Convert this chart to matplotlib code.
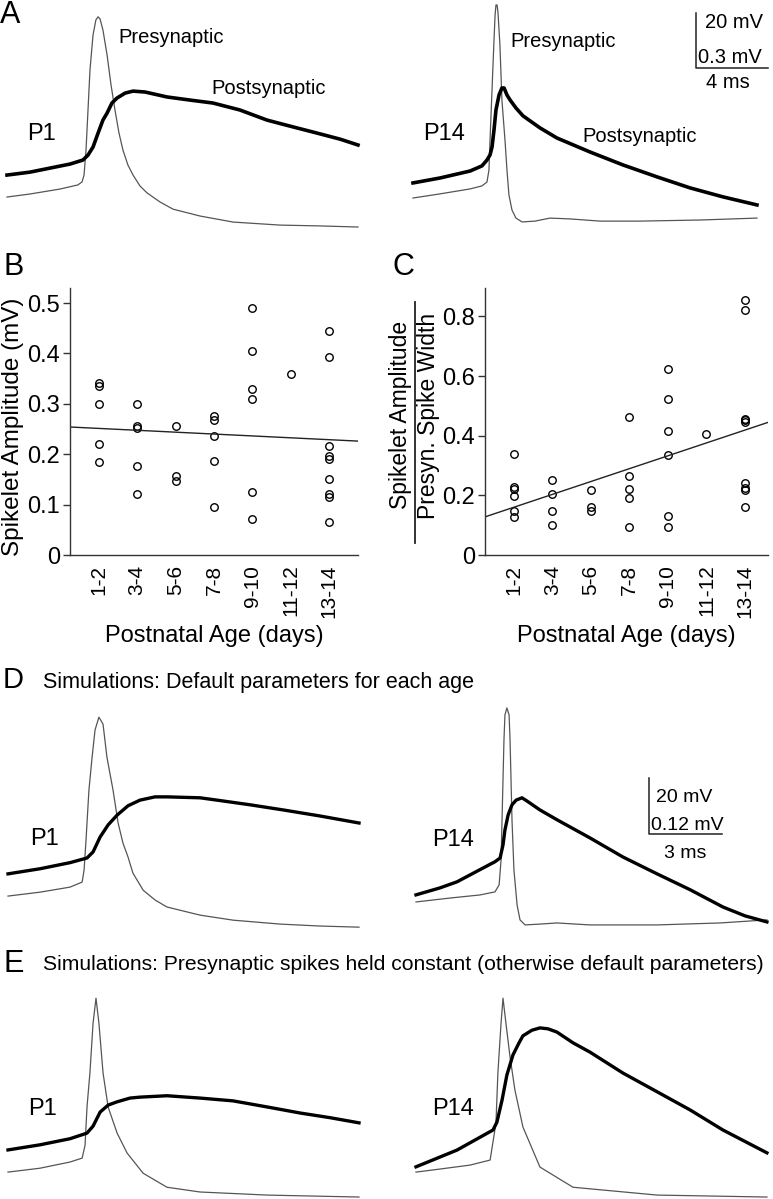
import numpy as np
import matplotlib
matplotlib.use("Agg")
import matplotlib.pyplot as plt

plt.rcParams['font.family'] = ['Liberation Sans', 'DejaVu Sans']

W, H = 773, 1199

# ---- scatter data (B and C) ----
age_groups = ['1-2', '3-4', '5-6', '7-8', '9-10', '11-12', '13-14']

b_group = [1, 1, 1, 1, 1, 2, 2, 2, 2, 2, 3, 3, 3, 4, 4, 4, 4, 4,
           5, 5, 5, 5, 5, 5, 6, 7, 7, 7, 7, 7, 7, 7, 7, 7]
b_amp = [0.342, 0.336, 0.30, 0.22, 0.185,
         0.299, 0.257, 0.253, 0.176, 0.121,
         0.256, 0.156, 0.147,
         0.275, 0.268, 0.236, 0.186, 0.096,
         0.49, 0.405, 0.33, 0.31, 0.125, 0.071,
         0.36,
         0.445, 0.394, 0.216, 0.196, 0.19, 0.151, 0.121, 0.115, 0.065]
b_fit = (0.255, -0.00373)  # intercept, slope

c_group = [1, 1, 1, 1, 1, 1, 2, 2, 2, 2, 3, 3, 3, 4, 4, 4, 4, 4,
           5, 5, 5, 5, 5, 5, 6, 7, 7, 7, 7, 7, 7, 7, 7, 7]
c_ratio = [0.337, 0.229, 0.222, 0.199, 0.148, 0.126,
           0.251, 0.204, 0.148, 0.100,
           0.218, 0.162, 0.149,
           0.463, 0.264, 0.220, 0.190, 0.093,
           0.625, 0.522, 0.416, 0.335, 0.131, 0.093,
           0.404,
           0.854, 0.820, 0.457, 0.451, 0.445, 0.240, 0.223, 0.218, 0.162]
c_fit = (0.117, 0.0431)

# ---- traces: time (ms), presynaptic Vm (mV), postsynaptic deflection (mV) ----
# A, P1 recording
al_pre_t = [0, 1.28, 2.94, 3.94, 4.17, 4.28, 4.39, 4.50, 4.61, 4.78, 4.94, 5.06, 5.17, 5.33,
            5.56, 5.78, 6.00, 6.22, 6.44, 6.72, 7.00, 7.39, 7.78, 8.50, 9.22, 10.72, 12.56,
            15.17, 17.39, 19.50]
al_pre_v = [-65.0, -63.9, -62.1, -60.6, -59.5, -57.0, -47.9, -33.4, -18.8, -6.1, -0.6, 0.5,
            -0.3, -4.3, -13.4, -24.3, -33.4, -41.7, -47.9, -53.4, -57.0, -61.0, -63.5, -66.8,
            -69.4, -71.9, -74.1, -75.2, -75.5, -75.9]
al_post_t = [0, 1.28, 2.39, 3.50, 4.22, 4.50, 4.78, 5.06, 5.33, 5.56, 5.83, 6.11, 6.56, 7.00,
             7.67, 8.89, 10.17, 11.44, 12.94, 14.44, 15.72, 17.22, 18.50, 19.50]
al_post_v = [0, 0.016, 0.038, 0.060, 0.082, 0.109, 0.153, 0.229, 0.300, 0.338, 0.393, 0.420,
             0.447, 0.458, 0.453, 0.426, 0.409, 0.393, 0.355, 0.300, 0.267, 0.229, 0.196, 0.164]

# A, P14 recording
ar_pre_t = [0, 1.50, 3.17, 3.83, 4.11, 4.22, 4.28, 4.39, 4.50, 4.56, 4.61, 4.67, 4.72, 4.83,
            4.94, 5.11, 5.22, 5.33, 5.50, 5.72, 6.06, 6.78, 7.61, 8.72, 10.39, 12.61, 15.94,
            19.11]
ar_pre_v = [-65.0, -63.5, -61.7, -60.6, -59.2, -54.8, -43.9, -25.7, -7.5, 1.5, 5.2, 5.2, 2.6,
            -9.4, -29.4, -43.9, -54.8, -63.9, -69.4, -72.3, -73.7, -73.4, -72.3, -72.6, -73.4,
            -73.4, -73.0, -72.3]
ar_post_t = [0, 1.50, 3.17, 3.83, 4.11, 4.28, 4.39, 4.50, 4.61, 4.78, 4.94, 5.06, 5.22, 5.39,
             5.72, 6.11, 7.06, 8.00, 9.83, 11.67, 13.56, 15.39, 17.22, 19.11]
ar_post_v = [0, 0.027, 0.065, 0.093, 0.125, 0.153, 0.196, 0.289, 0.398, 0.480, 0.518, 0.518,
             0.480, 0.453, 0.409, 0.366, 0.300, 0.245, 0.169, 0.098, 0.033, -0.027, -0.076,
             -0.120]

# D, simulation P1
dl_pre_t = [0, 1.32, 2.55, 3.05, 3.13, 3.21, 3.25, 3.33, 3.46, 3.58, 3.74, 3.91, 4.07, 4.32,
            4.53, 4.73, 4.94, 5.14, 5.56, 6.05, 6.54, 7.90, 9.26, 11.19, 12.84, 14.44]
dl_pre_v = [-65.0, -63.6, -61.8, -60.0, -55.7, -45.0, -38.9, -27.1, -15.4, -5.7, -1.1, -3.6,
            -15.4, -27.1, -38.9, -46.1, -51.1, -56.8, -62.9, -66.4, -68.9, -71.8, -73.6, -75.0,
            -75.7, -76.1]
dl_post_t = [0, 1.32, 2.55, 3.25, 3.50, 3.79, 4.12, 4.49, 4.94, 5.43, 6.05, 6.54, 7.90, 8.60,
             9.96, 11.32, 12.84, 14.44]
dl_post_v = [0, 0.011, 0.024, 0.034, 0.047, 0.079, 0.105, 0.126, 0.146, 0.158, 0.165, 0.165,
             0.163, 0.158, 0.148, 0.137, 0.124, 0.109]

# D, simulation P14
dr_pre_t = [0, 1.40, 2.63, 3.25, 3.42, 3.50, 3.54, 3.58, 3.62, 3.66, 3.74, 3.83, 3.87, 3.91,
            3.95, 4.03, 4.16, 4.28, 4.49, 5.10, 5.80, 7.16, 9.92, 12.51, 14.44]
dr_pre_v = [-65.0, -63.6, -62.5, -61.4, -58.9, -50.0, -35.7, -21.4, -7.1, 1.8, 4.3, 1.8, -7.1,
            -21.4, -35.7, -53.6, -66.1, -71.4, -73.2, -72.9, -72.5, -73.2, -73.2, -72.5, -71.4]
dr_post_t = [0, 0.99, 1.69, 2.63, 3.25, 3.46, 3.58, 3.66, 3.79, 3.95, 4.12, 4.36, 4.57, 5.10,
             5.80, 7.16, 8.52, 9.92, 11.28, 12.63, 13.54, 14.44]
dr_post_v = [0, 0.015, 0.028, 0.054, 0.071, 0.079, 0.107, 0.139, 0.171, 0.193, 0.203, 0.208,
             0.201, 0.182, 0.161, 0.122, 0.081, 0.045, 0.011, -0.026, -0.045, -0.058]

# E, presynaptic spike held constant, P1
el_pre_t = [0, 1.32, 2.55, 3.05, 3.17, 3.25, 3.37, 3.50, 3.62, 3.74, 3.91, 4.12, 4.49, 4.90,
            5.56, 6.54, 7.90, 10.66, 14.44]
el_pre_v = [-65.0, -63.6, -61.4, -60.0, -55.4, -41.8, -29.6, -11.8, -2.9, -11.8, -29.6, -41.8,
            -51.1, -58.2, -65.4, -70.4, -72.1, -73.2, -73.9]
el_post_t = [0, 1.32, 2.55, 3.25, 3.50, 3.79, 4.12, 4.49, 5.02, 5.43, 6.54, 7.90, 9.26, 10.66,
             12.02, 13.25, 14.44]
el_post_v = [0, 0.011, 0.024, 0.036, 0.051, 0.081, 0.096, 0.103, 0.111, 0.113, 0.116, 0.111,
             0.105, 0.092, 0.079, 0.069, 0.058]

# E, presynaptic spike held constant, P14
er_pre_t = [0, 0.99, 2.22, 3.05, 3.29, 3.37, 3.50, 3.58, 3.70, 3.87, 4.07, 4.40, 5.10, 6.46,
            9.92, 14.44]
er_pre_v = [-65.0, -63.9, -62.5, -60.7, -47.5, -29.6, -11.8, -2.9, -11.8, -23.9, -35.7, -48.9,
            -63.2, -70.4, -73.2, -73.9]
er_post_t = [0, 1.69, 3.17, 3.33, 3.54, 3.74, 3.99, 4.24, 4.40, 4.77, 5.10, 5.43, 5.80, 6.46,
             7.16, 8.52, 9.92, 11.28, 12.63, 14.44]
er_post_v = [0, 0.036, 0.079, 0.096, 0.143, 0.197, 0.240, 0.266, 0.281, 0.293, 0.298, 0.296,
             0.289, 0.266, 0.246, 0.201, 0.161, 0.122, 0.079, 0.030]


def box(x0, y0, x1, y1):
    # pixel box -> figure fraction rect
    return [x0 / W, 1 - y1 / H, (x1 - x0) / W, (y1 - y0) / H]


def ftext(x, y, s, **kw):
    fig.text(x / W, 1 - y / H, s, **kw)


def trace_panel(rect, xlim, pre_lim, post_lim, pre_t, pre_v, post_t, post_v, post_lw=2.4):
    ax = fig.add_axes(rect)
    ax2 = ax.twinx()
    ax.plot(pre_t, pre_v, color='#555555', lw=0.9, clip_on=False)
    ax2.plot(post_t, post_v, color='black', lw=post_lw, clip_on=False,
             solid_joinstyle='round')
    ax.set_xlim(*xlim)
    ax2.set_xlim(*xlim)
    ax.set_ylim(*pre_lim)
    ax2.set_ylim(*post_lim)
    ax.axis('off')
    ax2.axis('off')
    return ax


fig = plt.figure(figsize=(W / 100, H / 100), dpi=100)

# ---- A ----
trace_panel(box(7, 0, 358, 235), (0, 19.5), (-78.8, 6.6), (-0.327, 0.955),
            al_pre_t, al_pre_v, al_post_t, al_post_v, post_lw=2.6)
ax_ar = trace_panel(box(413, 0, 773, 235), (0, 20), (-78.45, 7.0), (-0.284, 0.998),
                    ar_pre_t, ar_pre_v, ar_post_t, ar_post_v, post_lw=2.6)
# scale bar A: 4 ms, 20 mV
ax_ar.plot([15.72, 15.72, 15.72 + 4], [-17.7 + 20, -17.7, -17.7], color='#222222', lw=1.1,
           clip_on=False)

ftext(0, 23, 'A', fontsize=22)
ftext(118, 43, 'Presynaptic', fontsize=14.5)
ftext(211, 94, 'Postsynaptic', fontsize=14.5)
ftext(27, 140, 'P1', fontsize=17)
ftext(510, 47, 'Presynaptic', fontsize=14.5)
ftext(582, 142, 'Postsynaptic', fontsize=14.5)
ftext(423, 140, 'P14', fontsize=17)
ftext(705, 28, '20 mV', fontsize=14.5)
ftext(698, 63, '0.3 mV', fontsize=14.5)
ftext(728, 88, '4 ms', fontsize=14.5, ha='center')

# ---- B and C ----
xs_b = np.array([0.25, 7.75])
xs_c = np.array([0.25, 7.6])
for rect, grp, vals, fit, xs, ymax, yticks in [
        (box(70, 288, 358, 555), b_group, b_amp, b_fit, xs_b, 0.53,
         [0, 0.1, 0.2, 0.3, 0.4, 0.5]),
        (box(485, 288, 768, 555), c_group, c_ratio, c_fit, xs_c, 0.895,
         [0, 0.2, 0.4, 0.6, 0.8])]:
    ax = fig.add_axes(rect)
    ax.plot(grp, vals, 'o', mfc='none', mec='black', ms=5.4, mew=1.0, clip_on=False)
    ax.plot(xs, fit[0] + fit[1] * xs, color='#222222', lw=1.0)
    ax.set_xlim(xs[0], xs[1])
    ax.set_ylim(0, ymax)
    ax.set_xticks(range(1, 8))
    ax.set_xticklabels(age_groups, rotation=90, fontsize=15)
    ax.set_yticks(yticks)
    ax.set_yticklabels(['0' if v == 0 else f'{v:g}' for v in yticks], fontsize=17)
    ax.tick_params(axis='x', length=0, pad=7)
    ax.tick_params(axis='y', length=5, width=1, pad=2, color='#333333')
    for s in ['top', 'right']:
        ax.spines[s].set_visible(False)
    for s in ['left', 'bottom']:
        ax.spines[s].set_color('#333333')
        ax.spines[s].set_linewidth(1.0)
    ax.set_xlabel('Postnatal Age (days)', fontsize=17, labelpad=5)

ftext(3, 275, 'B', fontsize=22)
ftext(393, 275, 'C', fontsize=22)
ftext(13, 427, 'Spikelet Amplitude (mV)', fontsize=17.5, rotation=90, ha='center',
      va='center')
ftext(400, 415, 'Spikelet Amplitude', fontsize=16.5, rotation=90, ha='center', va='center')
ftext(428, 416, 'Presyn. Spike Width', fontsize=16.5, rotation=90, ha='center', va='center')
fig.add_artist(plt.Line2D([415 / W, 415 / W], [1 - 302 / H, 1 - 543 / H], color='#222222',
                          lw=1.3))

# ---- D ----
trace_panel(box(8, 690, 359, 935), (0, 14.44), (-78.9, 8.6), (-0.131, 0.394),
            dl_pre_t, dl_pre_v, dl_post_t, dl_post_v)
ax_dr = trace_panel(box(416, 690, 773, 935), (0, 14.69), (-76.8, 10.7), (-0.086, 0.439),
                    dr_pre_t, dr_pre_v, dr_post_t, dr_post_v)
# scale bar D: 3 ms, 20 mV
ax_dr.plot([9.59, 9.59, 9.59 + 3], [-40.7 + 20, -40.7, -40.7], color='#222222', lw=1.1,
           clip_on=False)
ftext(3, 688, 'D', fontsize=21)
ftext(43, 688, 'Simulations: Default parameters for each age', fontsize=15.5)
ftext(30, 845, 'P1', fontsize=17)
ftext(432, 846, 'P14', fontsize=17)
ftext(656, 802, '20 mV', fontsize=14)
ftext(651, 830, '0.12 mV', fontsize=14)
ftext(685, 858, '3 ms', fontsize=14, ha='center')

# ---- E ----
trace_panel(box(8, 985, 359, 1199), (0, 14.44), (-74.6, 1.8), (-0.105, 0.353),
            el_pre_t, el_pre_v, el_post_t, el_post_v)
trace_panel(box(416, 985, 773, 1199), (0, 14.69), (-74.6, 1.8), (-0.069, 0.390),
            er_pre_t, er_pre_v, er_post_t, er_post_v)
ftext(3, 972, 'E', fontsize=22)
ftext(43, 970, 'Simulations: Presynaptic spikes held constant (otherwise default parameters)',
      fontsize=15.2)
ftext(28, 1115, 'P1', fontsize=17)
ftext(432, 1115, 'P14', fontsize=17)

fig.savefig('out.png', dpi=100)
